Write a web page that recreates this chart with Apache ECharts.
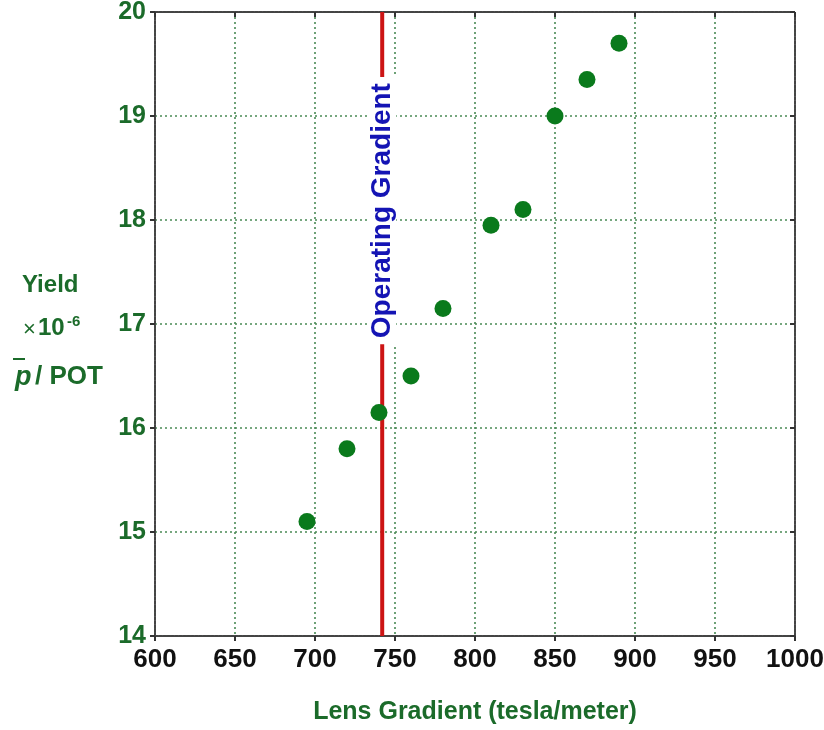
<!DOCTYPE html>
<html>
<head>
<meta charset="utf-8">
<script src="https://cdn.jsdelivr.net/npm/echarts@6/dist/echarts.min.js"></script>
<style>
  html, body { margin: 0; padding: 0; background: #fff; }
  #chart { width: 824px; height: 730px; }
</style>
</head>
<body>
<div id="chart"></div>
<script>
const gradient = [695, 720, 740, 760, 780, 810, 830, 850, 870, 890];
const yieldVals = [15.1, 15.8, 16.15, 16.5, 17.15, 17.95, 18.1, 19.0, 19.35, 19.7];
const operatingGradient = 742;
const operatingLabel = "Operating Gradient";
const xTitle = "Lens Gradient (tesla/meter)";

const green = "#1b6b2a";
const font = "Liberation Sans, Arial, sans-serif";
const frame = { lineStyle: { color: "#444", width: 2, type: [3, 1] } };
const grid = { show: true, lineStyle: { color: "#4a8a55", type: [2, 3], width: 1.6 } };
const tick = { show: true, length: 5, lineStyle: { color: "#333", width: 2 } };

const chart = echarts.init(document.getElementById("chart"));

chart.setOption({
  animation: false,
  grid: { left: 155, right: 29, top: 12, bottom: 94, outerBoundsMode: "none" },
  xAxis: [
    {
      type: "value", min: 600, max: 1000, interval: 50,
      axisLine: { show: true, onZero: false, ...frame },
      axisTick: tick,
      axisLabel: {
        color: "#111", fontSize: 26, fontWeight: "bold", fontFamily: font, margin: 11,
        formatter: (v) => String(v),
      },
      splitLine: grid,
      name: xTitle, nameLocation: "middle", nameGap: 64,
      nameTextStyle: { color: green, fontSize: 25, fontWeight: "bold", fontFamily: font },
    },
    {
      type: "value", position: "top", min: 600, max: 1000, interval: 50,
      axisLine: { show: true, onZero: false, ...frame },
      axisTick: { ...tick, inside: true },
      axisLabel: { show: false }, splitLine: { show: false },
    },
  ],
  yAxis: [
    {
      type: "value", min: 14, max: 20, interval: 1,
      axisLine: { show: true, onZero: false, ...frame },
      axisTick: tick,
      axisLabel: { color: green, fontSize: 25, fontWeight: "bold", fontFamily: font, margin: 9 },
      splitLine: grid,
    },
    {
      type: "value", position: "right", min: 14, max: 20, interval: 1,
      axisLine: { show: true, onZero: false, ...frame },
      axisTick: { ...tick, inside: true },
      axisLabel: { show: false }, splitLine: { show: false },
    },
  ],
  graphic: [
    { type: "text", left: 22, top: 273, style: { text: "Yield", fill: green, font: "bold 24px " + font } },
    { type: "text", left: 23, top: 319, style: { text: "×", fill: green, font: "22px " + font } },
    { type: "text", left: 38, top: 316, style: { text: "10", fill: green, font: "bold 24px " + font } },
    { type: "text", left: 67, top: 314, style: { text: "-6", fill: green, font: "bold 15px " + font } },
    { type: "text", left: 15, top: 364, style: { text: "p", fill: green, font: "italic bold 27px " + font } },
    { type: "line", shape: { x1: 13, y1: 359, x2: 25, y2: 359 }, style: { stroke: green, lineWidth: 2 } },
    { type: "text", left: 35, top: 364, style: { text: "/ POT", fill: green, font: "bold 26px " + font } },
  ],
  series: [
    {
      name: "operating",
      type: "line",
      data: [[operatingGradient, 14], [operatingGradient, 20]],
      showSymbol: false,
      lineStyle: { color: "#cc1414", width: 4 },
      z: 3,
    },
    {
      name: "label",
      type: "scatter",
      data: [[operatingGradient, 18.09]],
      symbolSize: 0,
      itemStyle: { opacity: 1 },
      z: 4,
      label: {
        show: true,
        position: "inside",
        formatter: operatingLabel,
        rotate: 90,
        color: "#1414b4",
        textBorderWidth: 0,
        fontSize: 28,
        fontWeight: "bold",
        fontFamily: font,
        backgroundColor: "#fff",
        padding: [0, 6, 0, 6],
      },
    },
    {
      name: "yield",
      type: "scatter",
      data: gradient.map((g, i) => [g, yieldVals[i]]),
      symbolSize: 17,
      itemStyle: { color: "#0a7a1c", opacity: 1 },
      z: 5,
    },
  ],
});
</script>
</body>
</html>
